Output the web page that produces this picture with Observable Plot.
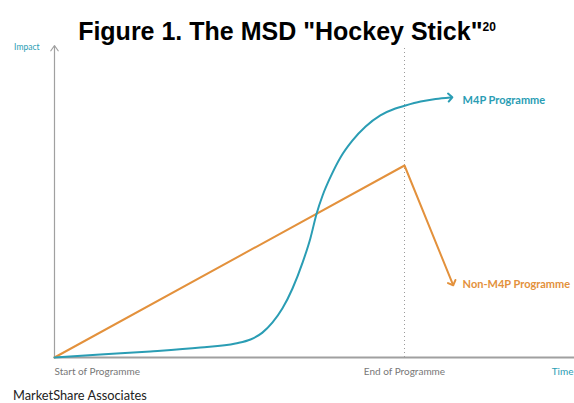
<!DOCTYPE html>
<html>
<head>
<meta charset="utf-8">
<script src="https://cdn.jsdelivr.net/npm/d3@7"></script>
<script src="https://cdn.jsdelivr.net/npm/@observablehq/plot@0.6"></script>
<style>
  html, body { margin: 0; padding: 0; background: #fff; width: 574px; height: 403px; overflow: hidden; }
  #title { font-family: "Liberation Sans", Arial, sans-serif; font-weight: bold; font-size: 25px; color: #000;
           text-align: center; height: 42px; line-height: 24px; padding-top: 19px; box-sizing: border-box; white-space: nowrap; }
  #title sup { font-size: 12px; vertical-align: 9px; line-height: 0; }
  #caption { font-family: Lato, "Open Sans", sans-serif; font-size: 12.8px; color: #222; padding-left: 13px; margin-top: 1px; line-height: 14px; height: 14px; }
  svg { display: block; }
</style>
</head>
<body>
<div id="title">Figure 1. The MSD "Hockey Stick"<sup>20</sup></div>
<div id="chart"></div>
<div id="caption">MarketShare Associates</div>
<script>
// Time axis: 0 = start of programme, 100 = end of programme
const m4pTime   = [0, 13.1, 27.4, 41.7, 51.7, 56, 59.4, 62.3, 65.1, 68, 70.9, 73.1, 74.9, 76.6, 78.9, 81.7, 85.1, 88.9, 93.1, 97.4, 100.3, 104.6, 108.9, 113.1];
const m4pImpact = [0, 1, 2, 3.3, 4.7, 6, 8.3, 11.7, 16.3, 23, 31.7, 39.7, 48, 54, 60.3, 66.7, 72.3, 77, 80.7, 83, 84, 85.3, 86.2, 86.7];
const nonTime   = [0, 100, 113.7];
const nonImpact = [0, 64, 24.7];
const seriesLabels = ["M4P Programme", "Non-M4P Programme"];
const labelTime = [116.6, 116.6];
const labelImpact = [85.8, 24.3];
const xTickTimes = [0, 100, 148.57];
const xTickLabels = ["Start of Programme", "End of Programme", "Time"];
const endOfProgramme = 100;

const teal = "#2a9db4";
const orange = "#e3913c";
const axisGray = "#a0a0a0";
const font = "Lato, 'Open Sans', sans-serif";

const m4p = m4pTime.map((t, i) => ({t, v: m4pImpact[i]}));
const non = nonTime.map((t, i) => ({t, v: nonImpact[i]}));
const ticks = xTickTimes.map((t, i) => ({t, label: xTickLabels[i]}));
const labels = seriesLabels.map((s, i) => ({t: labelTime[i], v: labelImpact[i], s, c: i === 0 ? teal : orange}));

const chart = Plot.plot({
  width: 574,
  height: 345,
  marginLeft: 54,
  marginRight: 0,
  marginTop: 15,
  marginBottom: 30,
  x: {domain: [0, 520 / 3.5], axis: null},
  y: {domain: [0, 100], axis: null},
  style: {fontFamily: font, background: "#fff", overflow: "visible"},
  marks: [
    Plot.ruleX([endOfProgramme], {y1: 0, y2: 103, stroke: "#9a9a9a", strokeDasharray: "1,3", strokeWidth: 1}),
    Plot.ruleY([0], {stroke: axisGray, strokeWidth: 2}),
    Plot.arrow([{x1: 0, y1: 0, x2: 0, y2: 104}], {x1: "x1", y1: "y1", x2: "x2", y2: "y2", stroke: axisGray, strokeWidth: 1.2, headLength: 8, headAngle: 70}),
    Plot.line(non, {x: "t", y: "v", stroke: orange, strokeWidth: 2, markerEnd: "arrow"}),
    Plot.line(m4p, {x: "t", y: "v", stroke: teal, strokeWidth: 2, curve: "monotone-x", markerEnd: "arrow"}),
    Plot.text(labels, {x: "t", y: "v", text: "s", fill: "c", textAnchor: "start", fontWeight: "bold", fontSize: 11}),
    Plot.text([ticks[0]], {x: "t", y: 0, text: "label", textAnchor: "start", dy: 14, fill: "#777", fontSize: 10}),
    Plot.text([ticks[1]], {x: "t", y: 0, text: "label", textAnchor: "middle", dy: 14, fill: "#777", fontSize: 10}),
    Plot.text([ticks[2]], {x: "t", y: 0, text: "label", textAnchor: "end", dx: -1, dy: 14, fill: teal, fontSize: 10}),
    Plot.text(["Impact"], {x: 0, y: 103.3, text: d => d, textAnchor: "end", dx: -15, fill: teal, fontSize: 8.5})
  ]
});
document.getElementById("chart").appendChild(chart);
</script>
</body>
</html>
